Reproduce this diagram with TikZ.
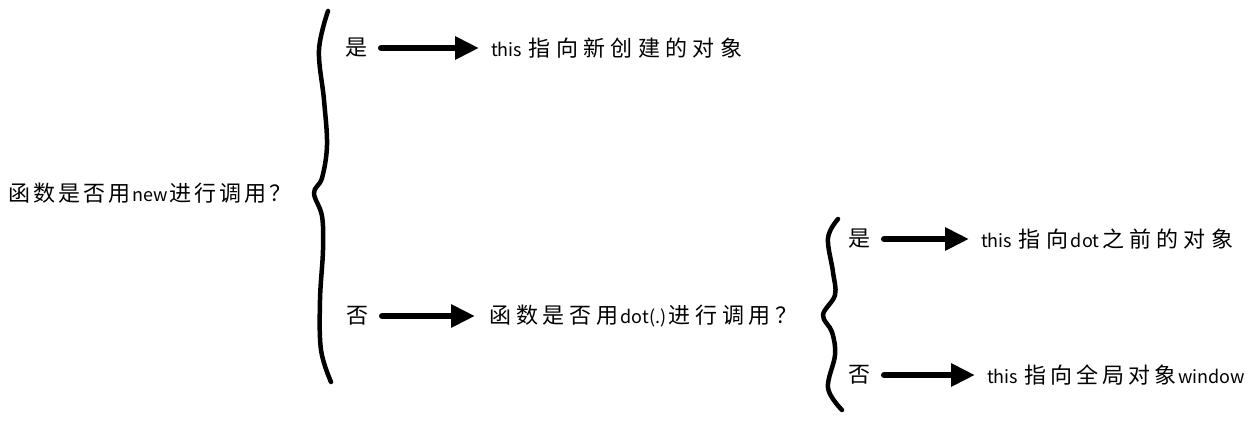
\documentclass[tikz,border=0pt]{standalone}
\usepackage{fontspec}
\setmainfont{Noto Sans CJK SC}
\usetikzlibrary{arrows.meta}
\newlength\cjkbox
\setlength\cjkbox{27pt}
\def\cjkloop#1{\ifx#1\relax\else\makebox[\cjkbox]{#1}\expandafter\cjkloop\fi}
\newcommand\cw[2][27pt]{{\setlength\cjkbox{#1}\cjkloop#2\relax}}
\newcommand\lt[1]{{\fontsize{18}{22}\selectfont #1}}
\begin{document}
\begin{tikzpicture}[x=1pt,y=-1pt,
  lbl/.style={inner sep=0pt,font=\fontsize{22}{26}\selectfont,anchor=west},
  ans/.style={inner sep=0pt,font=\fontsize{22}{26}\selectfont},
  arr/.style={line width=6.5pt,line cap=round,-{Triangle[length=24pt,width=22pt]},
              shorten <=14pt,shorten >=12pt},
  bracestroke/.style={line width=4.5pt,line cap=round,line join=round}]
\useasboundingbox (0,0) rectangle (1251,421);
% big brace
\draw[bracestroke] plot[smooth,tension=0.6] coordinates
  {(328,11) (319,50) (324,100) (327,145) (322,178) (314,193) (322,216) (323,250) (320,300) (321,350) (331,382)};
% small brace
\draw[bracestroke] plot[smooth,tension=0.6] coordinates
  {(838,219) (828,238) (833,272) (835,295) (823,315) (832,332) (835,355) (828,388) (842,410)};
% nodes
\node[lbl] (q1) at (7,193) {\cw[25pt]{函数是否用}\lt{new}\cw[25pt]{进行调用？}};
\node[ans] (y1) at (356,48) {是};
\node[lbl] (r1) at (491,48) {\lt{this }\cw[27.3pt]{指向新创建的对象}};
\node[ans] (n1) at (357,316) {否};
\node[lbl] (q2) at (487,316) {\cw[26.7pt]{函数是否用}\lt{dot(.)}\cw[26.7pt]{进行调用？}};
\node[ans] (y2) at (859,239) {是};
\node[lbl] (r2) at (981,239) {\lt{this }\cw[27.3pt]{指向}\lt{dot}\cw[27.3pt]{之前的对象}};
\node[ans] (n2) at (859,375) {否};
\node[lbl] (r3) at (987,375) {\lt{this }\cw[26pt]{指向全局对象}\lt{window}};
% arrows
\draw[arr] (y1.east) -- (r1.west);
\draw[arr] (n1.east) -- (q2.west);
\draw[arr] (y2.east) -- (r2.west);
\draw[arr] (n2.east) -- (r3.west);
\end{tikzpicture}
\end{document}
